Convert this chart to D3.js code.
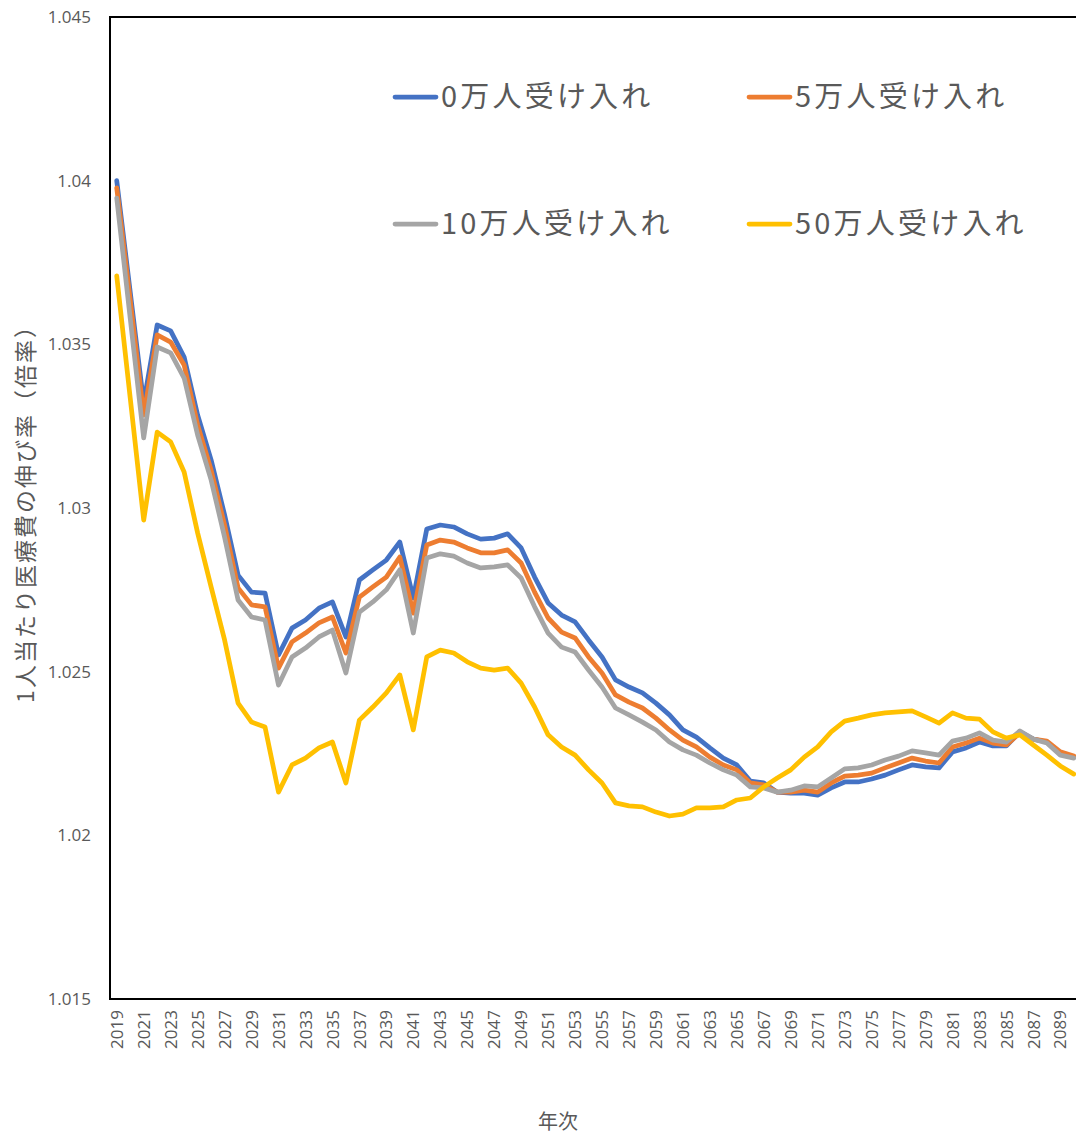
<!DOCTYPE html>
<html>
<head>
<meta charset="utf-8">
<script src="https://cdn.jsdelivr.net/npm/d3@7"></script>
<style>
  html, body { margin: 0; padding: 0; background: #fff; }
  svg { display: block; }
  .tick-label { font-family: "Open Sans", "Noto Sans", sans-serif; font-size: 17px; fill: #595959; }
  .jp { font-family: "Noto Sans CJK JP", sans-serif; fill: #595959; }
</style>
</head>
<body>
<svg id="chart" width="1076" height="1137"></svg>
<script>
// 年次 2019–2090
const years = d3.range(2019, 2091);

// 1人当たり医療費の伸び率（倍率）: 受け入れ人数別
const s0 = [
  1.04000, 1.03660, 1.03321, 1.03559, 1.03541, 1.03461, 1.03284, 1.03147, 1.02979, 1.02795,
  1.02743, 1.02740, 1.02551, 1.02633, 1.02658, 1.02694, 1.02713, 1.02606, 1.02780, 1.02811,
  1.02841, 1.02896, 1.02725, 1.02936, 1.02948, 1.02942, 1.02921, 1.02905, 1.02908, 1.02921,
  1.02878, 1.02789, 1.02710, 1.02673, 1.02652, 1.02597, 1.02545, 1.02475, 1.02453, 1.02435,
  1.02404, 1.02368, 1.02322, 1.02300, 1.02267, 1.02236, 1.02215, 1.02166, 1.02160, 1.02132,
  1.02129, 1.02129, 1.02123, 1.02145, 1.02163, 1.02163, 1.02172, 1.02184, 1.02200, 1.02215,
  1.02209, 1.02206, 1.02255, 1.02267, 1.02285, 1.02273, 1.02273, 1.02316, 1.02294, 1.02285,
  1.02252, 1.02239
];
const s5 = [
  1.03978, 1.03635, 1.03284, 1.03529, 1.03507, 1.03437, 1.03254, 1.03116, 1.02948, 1.02756,
  1.02704, 1.02698, 1.02511, 1.02591, 1.02618, 1.02649, 1.02667, 1.02557, 1.02728, 1.02759,
  1.02789, 1.02850, 1.02679, 1.02887, 1.02902, 1.02896, 1.02878, 1.02863, 1.02863, 1.02872,
  1.02832, 1.02743, 1.02664, 1.02621, 1.02603, 1.02545, 1.02496, 1.02429, 1.02407, 1.02389,
  1.02358, 1.02322, 1.02291, 1.02270, 1.02239, 1.02215, 1.02200, 1.02160, 1.02154, 1.02132,
  1.02132, 1.02138, 1.02132, 1.02160, 1.02181, 1.02184, 1.02190, 1.02206, 1.02221, 1.02236,
  1.02227, 1.02221, 1.02270, 1.02282, 1.02297, 1.02282, 1.02276, 1.02313, 1.02294, 1.02288,
  1.02255, 1.02242
];
const s10 = [
  1.03947, 1.03580, 1.03214, 1.03492, 1.03474, 1.03397, 1.03223, 1.03086, 1.02911, 1.02719,
  1.02667, 1.02658, 1.02459, 1.02545, 1.02572, 1.02606, 1.02627, 1.02496, 1.02682, 1.02713,
  1.02750, 1.02811, 1.02618, 1.02847, 1.02860, 1.02853, 1.02832, 1.02817, 1.02820, 1.02826,
  1.02786, 1.02698, 1.02618, 1.02575, 1.02560, 1.02505, 1.02453, 1.02389, 1.02368, 1.02346,
  1.02322, 1.02285, 1.02261, 1.02245, 1.02221, 1.02200, 1.02184, 1.02148, 1.02145, 1.02132,
  1.02138, 1.02151, 1.02148, 1.02175, 1.02203, 1.02206, 1.02215, 1.02230, 1.02242, 1.02258,
  1.02252, 1.02245, 1.02288, 1.02297, 1.02313, 1.02291, 1.02285, 1.02319, 1.02294, 1.02282,
  1.02245, 1.02236
];
const s50 = [
  1.03709, 1.03336, 1.02963, 1.03232, 1.03202, 1.03110, 1.02924, 1.02759, 1.02597, 1.02404,
  1.02346, 1.02331, 1.02132, 1.02215, 1.02236, 1.02267, 1.02285, 1.02160, 1.02352, 1.02392,
  1.02435, 1.02490, 1.02322, 1.02545, 1.02566, 1.02557, 1.02530, 1.02511, 1.02505, 1.02511,
  1.02465, 1.02392, 1.02307, 1.02270, 1.02245, 1.02200, 1.02160, 1.02099, 1.02090, 1.02087,
  1.02071, 1.02059, 1.02065, 1.02084, 1.02084, 1.02087, 1.02108, 1.02114, 1.02148, 1.02175,
  1.02200, 1.02239, 1.02270, 1.02316, 1.02349, 1.02358, 1.02368, 1.02374, 1.02377, 1.02380,
  1.02362, 1.02343, 1.02374, 1.02358, 1.02355, 1.02316, 1.02297, 1.02307, 1.02276, 1.02245,
  1.02212, 1.02187
];

const seriesNames = ["0万人受け入れ", "5万人受け入れ", "10万人受け入れ", "50万人受け入れ"];
const seriesValues = [s0, s5, s10, s50];
const seriesColors = ["#4472C4", "#ED7D31", "#A5A5A5", "#FFC000"];

const yTicks = [1.015, 1.02, 1.025, 1.03, 1.035, 1.04, 1.045];
const yTickLabels = ["1.015", "1.02", "1.025", "1.03", "1.035", "1.04", "1.045"];
const xTickYears = years.filter(y => y % 2 === 1);

const yTitle = "1人当たり医療費の伸び率（倍率）";
const xTitle = "年次";

const svg = d3.select("#chart");
const plot = { left: 110, top: 17, bottom: 999, right: 110 + 72 * 13.48 };

const x = d3.scaleBand().domain(years).range([plot.left, plot.right]);
const xc = d => x(d) + x.bandwidth() / 2;
const y = d3.scaleLinear().domain([1.015, 1.045]).range([plot.bottom, plot.top]);

// Y axis labels (no tick marks, no domain line; the frame is drawn separately)
const yAxis = d3.axisLeft(y)
  .tickValues(yTicks)
  .tickFormat((d, i) => yTickLabels[i])
  .tickSize(0)
  .tickPadding(19);
const gy = svg.append("g").attr("transform", `translate(${plot.left},0)`).call(yAxis);
gy.select(".domain").remove();
gy.selectAll("text").attr("class", "tick-label").attr("font-size", null).attr("font-family", null);

// X axis labels, rotated, every other year
const xAxis = d3.axisBottom(x)
  .tickValues(xTickYears)
  .tickSize(0)
  .tickPadding(0);
const gx = svg.append("g").attr("transform", `translate(0,${plot.bottom})`).call(xAxis);
gx.select(".domain").remove();
gx.selectAll("text")
  .attr("class", "tick-label")
  .attr("font-size", null).attr("font-family", null)
  .attr("transform", "rotate(-90)")
  .attr("x", -11)
  .attr("y", 0)
  .attr("dy", "0.36em")
  .style("text-anchor", "end");

// Series lines
const line = d3.line()
  .x((d, i) => xc(years[i]))
  .y(d => y(d));

svg.append("defs").append("clipPath").attr("id", "plotclip")
  .append("rect").attr("x", plot.left).attr("y", 0)
  .attr("width", plot.right - plot.left + 10).attr("height", plot.bottom);

const gl = svg.append("g").attr("clip-path", "url(#plotclip)");
seriesValues.forEach((vals, k) => {
  gl.append("path")
    .datum(vals)
    .attr("fill", "none")
    .attr("stroke", seriesColors[k])
    .attr("stroke-width", 4.75)
    .attr("stroke-linejoin", "round")
    .attr("stroke-linecap", "round")
    .attr("d", line);
});

// Plot frame
svg.append("rect")
  .attr("x", plot.left).attr("y", plot.top)
  .attr("width", plot.right - plot.left).attr("height", plot.bottom - plot.top)
  .attr("fill", "none").attr("stroke", "#000").attr("stroke-width", 2);

// Legend: 2 x 2
const legendPos = [
  { lx: 393, ly: 97 }, { lx: 747, ly: 97 },
  { lx: 393, ly: 224 }, { lx: 747, ly: 224 }
];
seriesNames.forEach((name, k) => {
  const p = legendPos[k];
  const g = svg.append("g").attr("transform", `translate(${p.lx},${p.ly})`);
  g.append("line")
    .attr("x1", 2).attr("x2", 43).attr("y1", 0).attr("y2", 0)
    .attr("stroke", seriesColors[k]).attr("stroke-width", 4.75)
    .attr("stroke-linecap", "round");
  g.append("text")
    .attr("class", "jp")
    .attr("x", 48).attr("y", 0).attr("dy", "0.36em")
    .attr("font-size", 29)
    .attr("letter-spacing", "3.2px")
    .text(name);
});

// Axis titles
svg.append("text")
  .attr("class", "jp")
  .attr("font-size", 23)
  .attr("letter-spacing", "2px")
  .attr("text-anchor", "middle")
  .attr("transform", `translate(26,${(plot.top + plot.bottom) / 2}) rotate(-90)`)
  .attr("dy", "0.36em")
  .text(yTitle);

svg.append("text")
  .attr("class", "jp")
  .attr("font-size", 20)
  .attr("text-anchor", "middle")
  .attr("x", 558).attr("y", 1122)
  .attr("dy", "0.36em")
  .text(xTitle);
</script>
</body>
</html>
